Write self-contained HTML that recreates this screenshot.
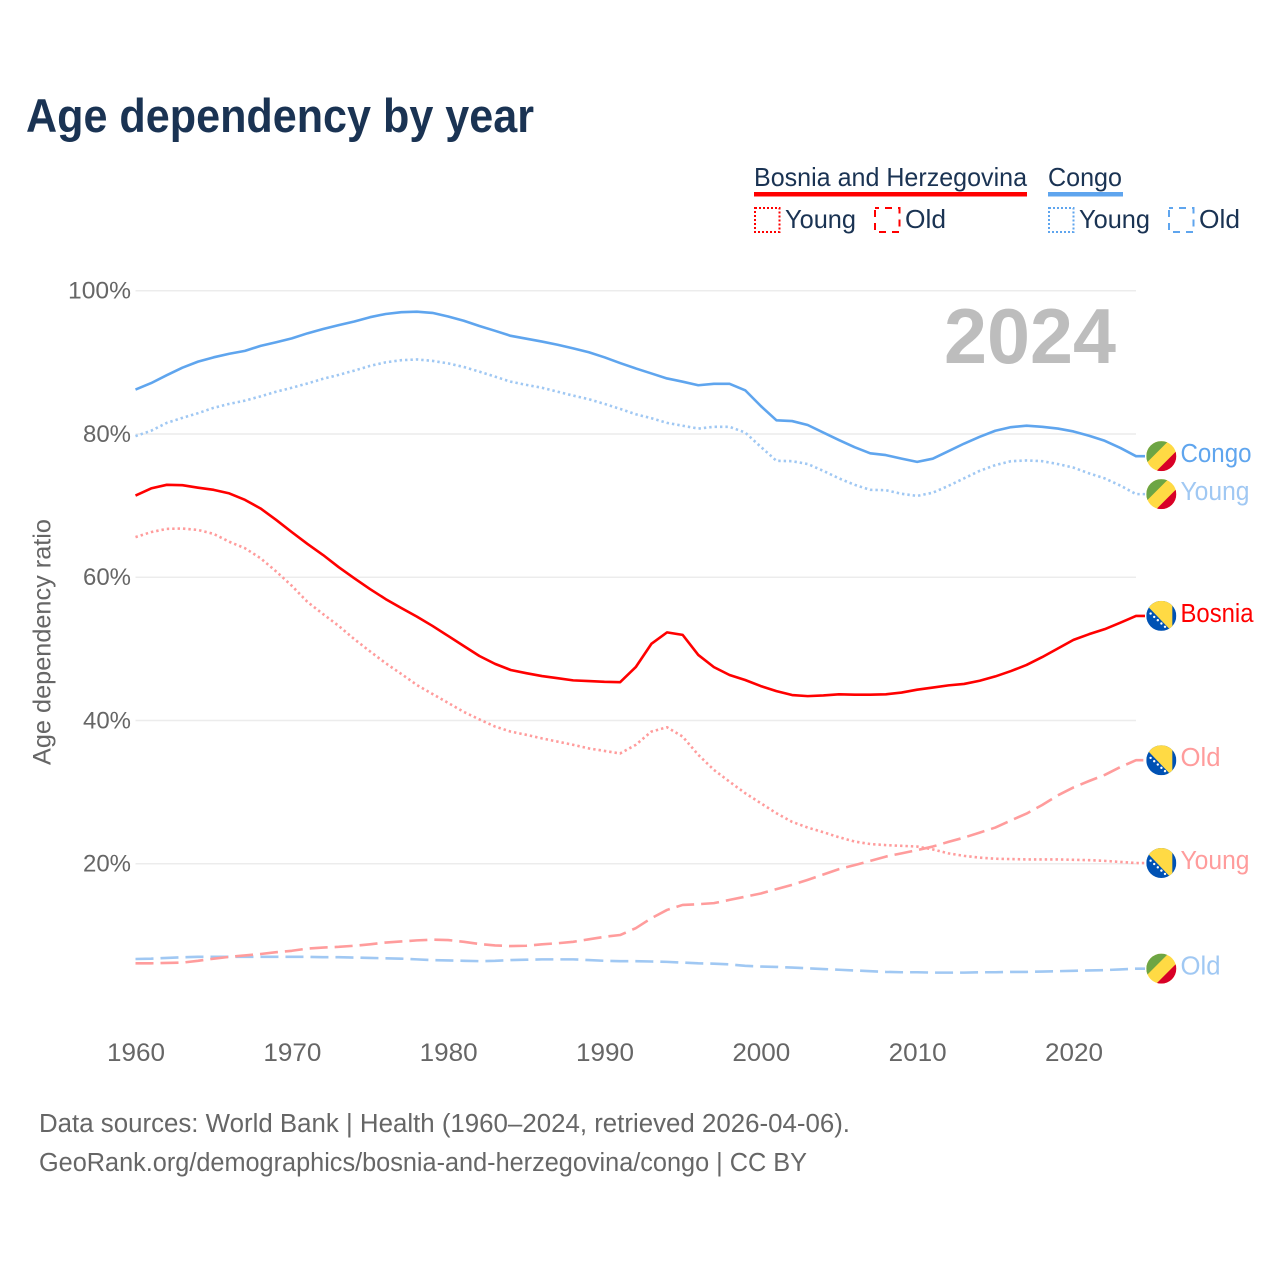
<!DOCTYPE html>
<html lang="en">
<head>
<meta charset="utf-8">
<title>Age dependency by year</title>
<style>
html,body{margin:0;padding:0;background:#fff;}
svg{display:block;font-family:"Liberation Sans",sans-serif;}
</style>
</head>
<body>
<svg id="chart" xmlns="http://www.w3.org/2000/svg" width="1280" height="1280" viewBox="0 0 1280 1280">
  <rect x="0" y="0" width="1280" height="1280" fill="#ffffff"/>
  <text x="26" y="132" font-size="47" font-weight="700" fill="#1a3353" textLength="508" lengthAdjust="spacingAndGlyphs">Age dependency by year</text>

  <g>
    <text x="754" y="186" font-size="26" fill="#1a3353" textLength="273" lengthAdjust="spacingAndGlyphs">Bosnia and Herzegovina</text>
    <rect x="754" y="192" width="273" height="4.5" fill="#ff0000"/>
    <text x="1048" y="186" font-size="26" fill="#1a3353" textLength="74" lengthAdjust="spacingAndGlyphs">Congo</text>
    <rect x="1048" y="192" width="75" height="4.5" fill="#5fa5ee"/>

    <rect x="755" y="208" width="24.5" height="24" fill="none" stroke="#ff0000" stroke-width="2" stroke-dasharray="2 2"/>
    <text x="785" y="228" font-size="26" fill="#1a3353" textLength="71" lengthAdjust="spacingAndGlyphs">Young</text>
    <rect x="875" y="208" width="24.5" height="24" fill="none" stroke="#ff0000" stroke-width="2" stroke-dasharray="7 6" stroke-dashoffset="3"/>
    <text x="905" y="228" font-size="26" fill="#1a3353" textLength="41" lengthAdjust="spacingAndGlyphs">Old</text>

    <rect x="1049" y="208" width="24.5" height="24" fill="none" stroke="#5fa5ee" stroke-width="2" stroke-dasharray="2 2"/>
    <text x="1079" y="228" font-size="26" fill="#1a3353" textLength="71" lengthAdjust="spacingAndGlyphs">Young</text>
    <rect x="1169" y="208" width="24.5" height="24" fill="none" stroke="#5fa5ee" stroke-width="2" stroke-dasharray="7 6" stroke-dashoffset="3"/>
    <text x="1199" y="228" font-size="26" fill="#1a3353" textLength="41" lengthAdjust="spacingAndGlyphs">Old</text>
  </g>

  <g id="grid"></g>
  <text x="944" y="363" font-size="78" font-weight="700" fill="#bdbdbd" textLength="172" lengthAdjust="spacingAndGlyphs">2024</text>
  <g id="yticks"></g>
  <g id="xticks"></g>
  <text transform="translate(50.5,642) rotate(-90)" text-anchor="middle" font-size="25" fill="#666666" textLength="246" lengthAdjust="spacingAndGlyphs">Age dependency ratio</text>
  <g id="series"></g>
  <g id="endpoints"></g>

  <text x="39" y="1132" font-size="25.5" fill="#666666" textLength="811" lengthAdjust="spacingAndGlyphs">Data sources: World Bank | Health (1960–2024, retrieved 2026-04-06).</text>
  <text x="39" y="1171" font-size="25.5" fill="#666666" textLength="768" lengthAdjust="spacingAndGlyphs">GeoRank.org/demographics/bosnia-and-herzegovina/congo | CC BY</text>
</svg>
<script>
const years = [1960,1961,1962,1963,1964,1965,1966,1967,1968,1969,1970,1971,1972,1973,1974,1975,1976,1977,1978,1979,1980,1981,1982,1983,1984,1985,1986,1987,1988,1989,1990,1991,1992,1993,1994,1995,1996,1997,1998,1999,2000,2001,2002,2003,2004,2005,2006,2007,2008,2009,2010,2011,2012,2013,2014,2015,2016,2017,2018,2019,2020,2021,2022,2023,2024];
const congoTotal = [86.2,87.1,88.2,89.25,90.1,90.7,91.2,91.6,92.3,92.8,93.35,94.05,94.65,95.2,95.7,96.3,96.75,97.0,97.07,96.9,96.4,95.8,95.07,94.4,93.7,93.3,92.9,92.45,91.95,91.4,90.7,89.9,89.15,88.45,87.75,87.3,86.8,87.0,87.0,86.1,83.9,81.9,81.8,81.25,80.2,79.15,78.15,77.3,77.05,76.55,76.1,76.55,77.6,78.65,79.6,80.45,80.95,81.15,81.0,80.75,80.35,79.75,79.05,78.05,76.9];
const congoYoung = [79.7,80.45,81.55,82.25,82.9,83.65,84.2,84.65,85.25,85.9,86.45,87.05,87.7,88.25,88.85,89.5,90.0,90.3,90.4,90.2,89.85,89.35,88.7,88.0,87.3,86.85,86.45,85.9,85.35,84.85,84.2,83.5,82.75,82.2,81.55,81.15,80.75,81.0,81.0,80.2,78.2,76.25,76.2,75.8,74.85,73.8,72.9,72.2,72.15,71.65,71.35,71.8,72.75,73.8,74.85,75.65,76.2,76.3,76.2,75.8,75.3,74.5,73.8,72.8,71.6];
const congoOld = [6.7,6.75,6.85,6.95,7.0,7.0,7.0,7.0,7.0,7.0,7.0,7.0,6.95,6.95,6.9,6.85,6.8,6.75,6.65,6.55,6.5,6.45,6.4,6.45,6.55,6.6,6.65,6.65,6.65,6.55,6.45,6.4,6.4,6.35,6.3,6.2,6.1,6.05,5.95,5.75,5.65,5.6,5.5,5.4,5.3,5.2,5.1,5.0,4.9,4.85,4.85,4.8,4.8,4.8,4.85,4.85,4.9,4.9,4.95,5.0,5.05,5.1,5.15,5.25,5.35];
const bosniaTotal = [71.4,72.4,72.9,72.85,72.5,72.2,71.7,70.8,69.6,68.0,66.3,64.65,63.1,61.4,59.85,58.35,56.95,55.7,54.5,53.2,51.8,50.4,49.0,47.9,47.05,46.6,46.2,45.9,45.6,45.5,45.4,45.35,47.45,50.7,52.3,51.95,49.15,47.45,46.35,45.65,44.8,44.1,43.55,43.4,43.5,43.65,43.6,43.6,43.65,43.9,44.3,44.6,44.9,45.1,45.55,46.15,46.9,47.75,48.85,50.05,51.25,52.05,52.75,53.65,54.6];
const bosniaYoung = [65.6,66.3,66.75,66.8,66.6,66.05,64.95,64.05,62.65,60.8,58.8,56.55,54.85,53.2,51.35,49.65,48.0,46.5,44.95,43.7,42.45,41.2,40.15,39.15,38.45,38.0,37.5,37.05,36.6,36.1,35.75,35.4,36.6,38.45,39.05,37.75,35.2,33.1,31.45,29.85,28.45,27.05,25.85,25.05,24.4,23.7,23.1,22.75,22.6,22.5,22.4,22.0,21.45,21.1,20.85,20.7,20.65,20.6,20.6,20.6,20.55,20.5,20.4,20.25,20.1];
const bosniaOld = [6.1,6.1,6.15,6.2,6.45,6.75,7.0,7.2,7.4,7.65,7.85,8.15,8.3,8.4,8.55,8.75,9.0,9.15,9.3,9.4,9.35,9.1,8.8,8.6,8.5,8.55,8.75,8.9,9.1,9.45,9.8,10.05,11.0,12.4,13.55,14.25,14.35,14.5,14.95,15.4,15.85,16.45,17.05,17.75,18.5,19.25,19.8,20.4,21.0,21.45,21.9,22.4,23.05,23.65,24.35,25.05,26.05,27.0,28.2,29.55,30.65,31.55,32.4,33.5,34.45];
const yTickValues = [20,40,60,80,100];
const yTickLabels = ['20%','40%','60%','80%','100%'];
const xTickValues = [1960,1970,1980,1990,2000,2010,2020];

const NS = 'http://www.w3.org/2000/svg';
const COLORS = {bosnia:'#ff0000', bosniaLight:'#ff9c9c', congo:'#5fa5ee', congoLight:'#a0c8f3'};
const PLOT_LEFT = 135.5, PLOT_RIGHT = 1136, Y_ZERO = 1007, PX_PER_UNIT = 7.163;
const DOTTED = '2.4 3', DASHED = '18 7';

function x(year){ return PLOT_LEFT + (year - 1960) * (PLOT_RIGHT - PLOT_LEFT) / 64; }
function y(value){ return Y_ZERO - value * PX_PER_UNIT; }
function make(tag, attrs, parent){
  const el = document.createElementNS(NS, tag);
  for (const k in attrs) el.setAttribute(k, attrs[k]);
  parent.appendChild(el);
  return el;
}

const gridG = document.getElementById('grid');
const yG = document.getElementById('yticks');
yTickValues.forEach(function(v, i){
  const line = make('line', {x1:PLOT_LEFT, x2:PLOT_RIGHT, y1:y(v), y2:y(v), stroke:'#ececec', 'stroke-width':1.5}, gridG);
  
  
  const label = yTickLabels[i];
  const t = make('text', {x:131, y:y(v)+8, 'text-anchor':'end', 'font-size':24.5, fill:'#666666', textLength:(label.length > 3 ? 63 : 48), lengthAdjust:'spacingAndGlyphs'}, yG);
  
  
  t.textContent = label;
});

const xG = document.getElementById('xticks');
xTickValues.forEach(function(v){
  const t = make('text', {x:x(v)+0.5, y:1061, 'text-anchor':'middle', 'font-size':25, fill:'#666666', textLength:58, lengthAdjust:'spacingAndGlyphs'}, xG);
  
  
  t.textContent = String(v);
});

function drawSeries(name, values, color, dash){
  const pts = values.map(function(v, i){ return x(years[i]).toFixed(2) + ',' + y(v).toFixed(2); });
  const last = values[values.length - 1];
  pts.push((x(years[years.length-1]) + 9).toFixed(2) + ',' + y(last).toFixed(2));
  const p = make('polyline', {points:pts.join(' '), fill:'none', stroke:color, 'stroke-width':2.6, 'stroke-linejoin':'round'}, document.getElementById('series'));
  if (dash) p.setAttribute('stroke-dasharray', dash);
  
  
}
drawSeries('congo-young', congoYoung, COLORS.congoLight, DOTTED);
drawSeries('congo-old', congoOld, COLORS.congoLight, DASHED);
drawSeries('bosnia-young', bosniaYoung, COLORS.bosniaLight, DOTTED);
drawSeries('bosnia-old', bosniaOld, COLORS.bosniaLight, DASHED);
drawSeries('congo-total', congoTotal, COLORS.congo, null);
drawSeries('bosnia-total', bosniaTotal, COLORS.bosnia, null);

let clipCount = 0;
function drawFlag(country, cy, parent){
  const cx = 1161.3, r = 15;
  clipCount += 1;
  const id = 'flag-clip-' + clipCount;
  const cp = make('clipPath', {id:id}, parent);
  make('circle', {cx:cx, cy:cy, r:r}, cp);
  const g = make('g', {'clip-path':'url(#' + id + ')'}, parent);
  
  
  const L = cx - r, R = cx + r, T = cy - r, B = cy + r;
  if (country === 'congo') {
    make('rect', {x:L, y:T, width:30, height:30, fill:'#ffda44'}, g);
    make('polygon', {points:[L,T, R-8,T, L,B-8].join(' '), fill:'#6da544'}, g);
    make('polygon', {points:[R,T+10, R,B, L+10,B].join(' '), fill:'#d80027'}, g);
  } else {
    make('rect', {x:L, y:T, width:30, height:30, fill:'#0052b4'}, g);
    make('polygon', {points:[cx-13,cy-9, cx-13,T, cx+11,T, cx+11,cy+16].join(' '), fill:'#ffda44'}, g);
    for (let i = 0; i < 5; i++) {
      make('circle', {cx:cx-10.7+i*3.6, cy:cy-2.3+i*3.3, r:1.2, fill:'#ffffff'}, g);
    }
  }
}

function drawEnd(name, label, country, value, color, width){
  const parent = document.getElementById('endpoints');
  const cy = y(value);
  drawFlag(country, cy, parent);
  const t = make('text', {x:1180.5, y:cy+6, 'font-size':25.5, fill:color, textLength:width, lengthAdjust:'spacingAndGlyphs'}, parent);
  
  
  t.textContent = label;
}
drawEnd('congo-total', 'Congo', 'congo', congoTotal[64], COLORS.congo, 71);
drawEnd('congo-young', 'Young', 'congo', congoYoung[64], COLORS.congoLight, 69);
drawEnd('bosnia-total', 'Bosnia', 'bosnia', bosniaTotal[64], COLORS.bosnia, 73);
drawEnd('bosnia-old', 'Old', 'bosnia', bosniaOld[64], COLORS.bosniaLight, 40);
drawEnd('bosnia-young', 'Young', 'bosnia', bosniaYoung[64], COLORS.bosniaLight, 69);
drawEnd('congo-old', 'Old', 'congo', congoOld[64], COLORS.congoLight, 40);
</script>
</body>
</html>
